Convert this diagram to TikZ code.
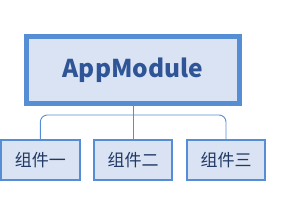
\documentclass[tikz,border=0pt]{standalone}
\usepackage{fontspec}
\setmainfont{Noto Sans CJK SC}
\definecolor{boxfill}{HTML}{DAE3F3}
\definecolor{boxline}{HTML}{558ED5}
\definecolor{titletext}{HTML}{2F5597}
\definecolor{subtext}{HTML}{1F3864}
\tikzset{
  topbox/.style={draw=boxline, fill=boxfill, line width=5pt, minimum width=213pt, minimum height=67pt, inner sep=0pt, text=titletext, font=\fontsize{24.5}{26}\selectfont\bfseries},
  subbox/.style={draw=boxline, fill=boxfill, line width=2pt, minimum width=78.7pt, minimum height=40pt, inner sep=0pt, text=subtext, font=\fontsize{17}{19}\selectfont},
  conn/.style={draw=boxline, line width=0.9pt}
}
\begin{document}
\begin{tikzpicture}[x=1pt,y=1pt]
\useasboundingbox (0,0) rectangle (300,209);
\node[topbox] (top) at (133,139) {AppModule};
\node[subbox] (b1) at (40.35,49) {组件一};
\node[subbox] (b2) at (133,49) {组件二};
\node[subbox] (b3) at (226,49) {组件三};
\coordinate (j) at (133,94);
\draw[conn] (top.south) -- (b2.north);
\draw[conn, rounded corners=7pt] (b1.north) |- (j) -| (b3.north);
\end{tikzpicture}
\end{document}
